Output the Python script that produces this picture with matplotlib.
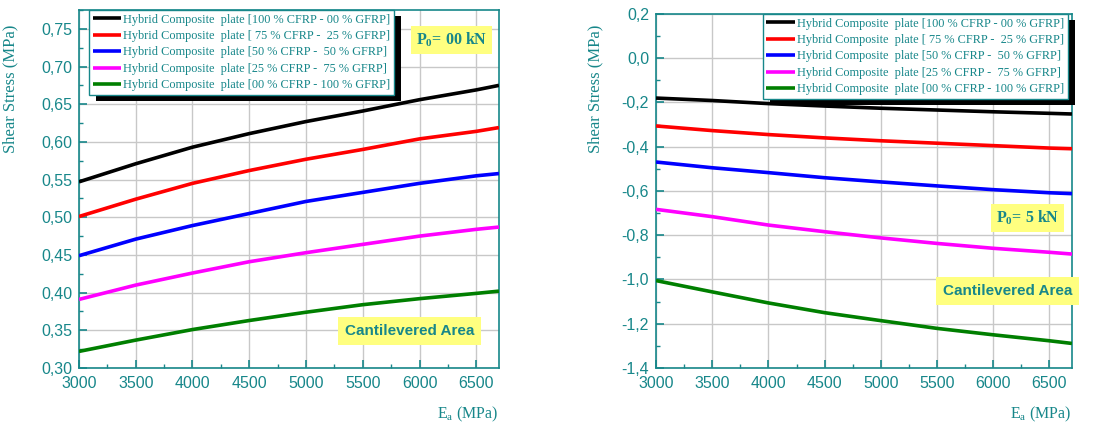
import matplotlib
matplotlib.use("Agg")
import matplotlib.pyplot as plt
from matplotlib.patches import Rectangle
from matplotlib.ticker import MultipleLocator, FuncFormatter

TEAL = "#17878a"
YELLOW = "#ffff80"

# Young's modulus of the adhesive (MPa)
ea = [3000, 3500, 4000, 4500, 5000, 5500, 6000, 6500, 6700]

labels = [
    "Hybrid Composite  plate [100 % CFRP - 00 % GFRP]",
    "Hybrid Composite  plate [ 75 % CFRP -  25 % GFRP]",
    "Hybrid Composite  plate [50 % CFRP -  50 % GFRP]",
    "Hybrid Composite  plate [25 % CFRP -  75 % GFRP]",
    "Hybrid Composite  plate [00 % CFRP - 100 % GFRP]",
]
colors = ["#000000", "#ff0000", "#0000ff", "#ff00ff", "#007f00"]

# Shear stress, P0 = 00 kN
tau_p0 = [
    [0.547, 0.571, 0.593, 0.611, 0.627, 0.641, 0.656, 0.669, 0.675],
    [0.501, 0.524, 0.545, 0.562, 0.577, 0.590, 0.604, 0.614, 0.619],
    [0.449, 0.471, 0.489, 0.505, 0.521, 0.533, 0.545, 0.555, 0.558],
    [0.391, 0.410, 0.426, 0.441, 0.453, 0.464, 0.475, 0.484, 0.487],
    [0.322, 0.337, 0.351, 0.363, 0.374, 0.384, 0.392, 0.399, 0.402],
]

# Shear stress, P0 = 5 kN
tau_p5 = [
    [-0.180, -0.191, -0.205, -0.216, -0.226, -0.234, -0.242, -0.249, -0.252],
    [-0.306, -0.327, -0.345, -0.360, -0.373, -0.384, -0.395, -0.406, -0.409],
    [-0.469, -0.495, -0.517, -0.540, -0.559, -0.577, -0.594, -0.608, -0.612],
    [-0.683, -0.716, -0.754, -0.784, -0.812, -0.837, -0.859, -0.877, -0.885],
    [-1.005, -1.056, -1.106, -1.150, -1.186, -1.221, -1.250, -1.277, -1.289],
]

SERIF = ["Liberation Serif", "DejaVu Serif"]
SANS = ["Liberation Sans", "DejaVu Sans"]
plt.rcParams["font.family"] = SANS

fig = plt.figure(figsize=(11, 4.28), dpi=100)
ax1 = fig.add_axes([0.0718, 0.1402, 0.3818, 0.8364])
ax2 = fig.add_axes([0.5964, 0.1402, 0.3781, 0.8271])


def style_axes(ax, ylim, ymajor, yminor, ydec):
    ax.set_xlim(3000, 6700)
    ax.set_ylim(*ylim)
    ax.xaxis.set_major_locator(MultipleLocator(500))
    ax.xaxis.set_minor_locator(MultipleLocator(250))
    ax.yaxis.set_major_locator(MultipleLocator(ymajor))
    ax.yaxis.set_minor_locator(MultipleLocator(yminor))
    ax.yaxis.set_major_formatter(
        FuncFormatter(lambda v, p: f"{v:.{ydec}f}".replace(".", ",").replace("-0,0", "0,0")))
    ax.grid(True, which="major", color="#c8c8c8", lw=1.0, zorder=0)
    for s in ax.spines.values():
        s.set_color(TEAL)
        s.set_linewidth(1.2)
    ax.tick_params(which="both", direction="in", color=TEAL, labelcolor=TEAL,
                   labelsize=11.5, top=False, right=False)
    ax.tick_params(which="major", length=6, width=1.2)
    ax.tick_params(which="minor", length=3, width=1.0)
    ax.tick_params(axis="x", pad=6)
    ax.tick_params(axis="y", pad=5)
    ax.set_ylabel("Shear Stress (MPa)", family=SERIF, fontsize=12, color=TEAL)
    ax.set_xlabel("E$_\\mathregular{a}$ (MPa)", family=SERIF, fontsize=11.5,
                  color=TEAL, loc="right", labelpad=10)


def draw_series(ax, data):
    for vals, col, lab in zip(data, colors, labels):
        ax.plot(ea, vals, color=col, lw=2.6, label=lab, zorder=3,
                solid_joinstyle="round", solid_capstyle="butt")


def add_legend(ax, anchor, loc):
    leg = ax.legend(loc=loc, bbox_to_anchor=anchor, frameon=True, fancybox=False,
                    framealpha=1, edgecolor=TEAL, facecolor="white",
                    prop={"family": SERIF, "size": 8.8}, labelcolor=TEAL,
                    handlelength=2.3, handletextpad=0.2, labelspacing=0.36,
                    borderpad=0.3, borderaxespad=0)
    leg.get_frame().set_linewidth(1.0)
    leg.set_zorder(6)
    return leg


def add_box(ax, x, y, text, family, size, pad):
    ax.text(x, y, text, transform=ax.transAxes, ha="center", va="center",
            family=family, fontsize=size, fontweight="bold", color=TEAL, zorder=7,
            bbox=dict(boxstyle=f"square,pad={pad}", fc=YELLOW, ec="none"))


style_axes(ax1, (0.30, 0.775), 0.05, 0.025, 2)
draw_series(ax1, tau_p0)
leg1 = add_legend(ax1, (0.024, 1.0), "upper left")
add_box(ax1, 0.888, 0.916, "P$_\\mathregular{0}$= 00 kN", SERIF, 11.5, 0.3)
add_box(ax1, 0.788, 0.103, "Cantilevered Area", SANS, 11, 0.45)

style_axes(ax2, (-1.4, 0.2), 0.2, 0.1, 1)
draw_series(ax2, tau_p5)
leg2 = add_legend(ax2, (0.99, 1.0), "upper right")
add_box(ax2, 0.894, 0.424, "P$_\\mathregular{0}$= 5 kN", SERIF, 11.5, 0.3)
add_box(ax2, 0.846, 0.218, "Cantilevered Area", SANS, 11, 0.45)

ax1.yaxis.set_label_coords(-0.145, 0.78)
ax2.yaxis.set_label_coords(-0.127, 0.79)

# Drop shadows behind the legends
fig.canvas.draw()
inv = fig.transFigure.inverted()
for ax, leg in ((ax1, leg1), (ax2, leg2)):
    bb = leg.get_window_extent()
    (x0, y0) = inv.transform((bb.x0 + 7, bb.y0 - 6))
    (x1, y1) = inv.transform((bb.x1 + 7, bb.y1 - 6))
    ax.add_artist(Rectangle((x0, y0), x1 - x0, y1 - y0, transform=fig.transFigure,
                            facecolor="black", edgecolor="none", zorder=5.5,
                            clip_on=False))

fig.savefig("out.png", dpi=100, facecolor="white")
